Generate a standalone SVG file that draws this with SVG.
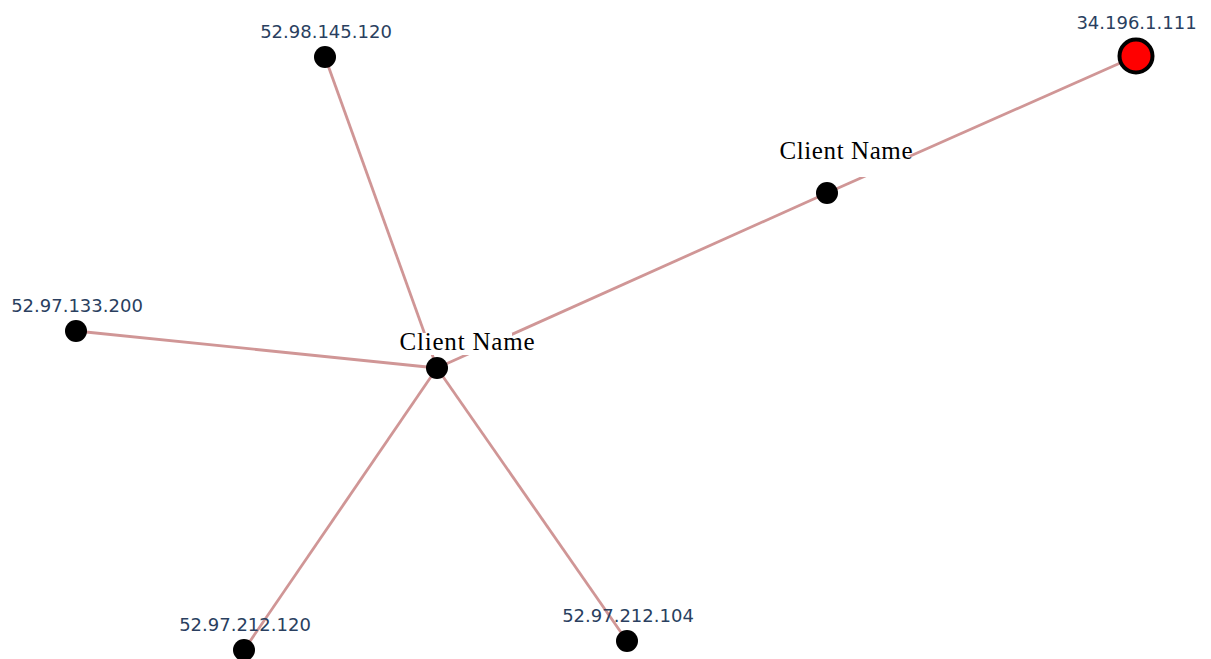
<svg xmlns="http://www.w3.org/2000/svg" width="1211" height="659" viewBox="0 0 1211 659">
<style>
.edge{stroke:#d09696;stroke-width:2.8;fill:none}
.node{fill:#000}
.ip{font-family:"DejaVu Sans",sans-serif;font-size:18px;fill:#2a3f5f;text-anchor:middle}
.cn{font-family:"Liberation Serif",serif;font-size:25px;fill:#000;text-anchor:middle}
.mask{fill:#fff}
</style>
<rect width="1211" height="659" fill="#fff"/>
<g id="connectors">
<line class="edge" x1="437" y1="368" x2="325" y2="57"/>
<line class="edge" x1="437" y1="368" x2="76" y2="331"/>
<line class="edge" x1="437" y1="368" x2="244" y2="650"/>
<line class="edge" x1="437" y1="368" x2="627" y2="641"/>
<line class="edge" x1="437" y1="368" x2="827" y2="193"/>
<line class="edge" x1="827" y1="193" x2="1136" y2="56"/>
</g>
<g id="node-52-98-145-120">
<circle class="node" cx="325" cy="57" r="11"/>
<text class="ip" x="326" y="38">52.98.145.120</text>
</g>
<g id="node-34-196-1-111">
<circle cx="1136" cy="56" r="16.5" fill="#ff0000" stroke="#000" stroke-width="4"/>
<text class="ip" x="1136.5" y="29">34.196.1.111</text>
</g>
<g id="node-client-top">
<rect class="mask" x="780" y="156" width="130" height="21"/>
<circle class="node" cx="827" cy="193" r="11"/>
<text class="cn" x="846" y="159" textLength="133" lengthAdjust="spacing">Client Name</text>
</g>
<g id="node-52-97-133-200">
<circle class="node" cx="76" cy="331" r="11"/>
<text class="ip" x="77" y="312">52.97.133.200</text>
</g>
<g id="node-client-center">
<rect class="mask" x="418" y="333" width="94" height="22"/>
<circle class="node" cx="437" cy="368" r="11"/>
<text class="cn" x="467" y="350" textLength="135" lengthAdjust="spacing">Client Name</text>
</g>
<g id="node-52-97-212-120">
<circle class="node" cx="244" cy="650" r="11"/>
<text class="ip" x="245" y="631">52.97.212.120</text>
</g>
<g id="node-52-97-212-104">
<circle class="node" cx="627" cy="641" r="11"/>
<text class="ip" x="628" y="622">52.97.212.104</text>
</g>
</svg>
